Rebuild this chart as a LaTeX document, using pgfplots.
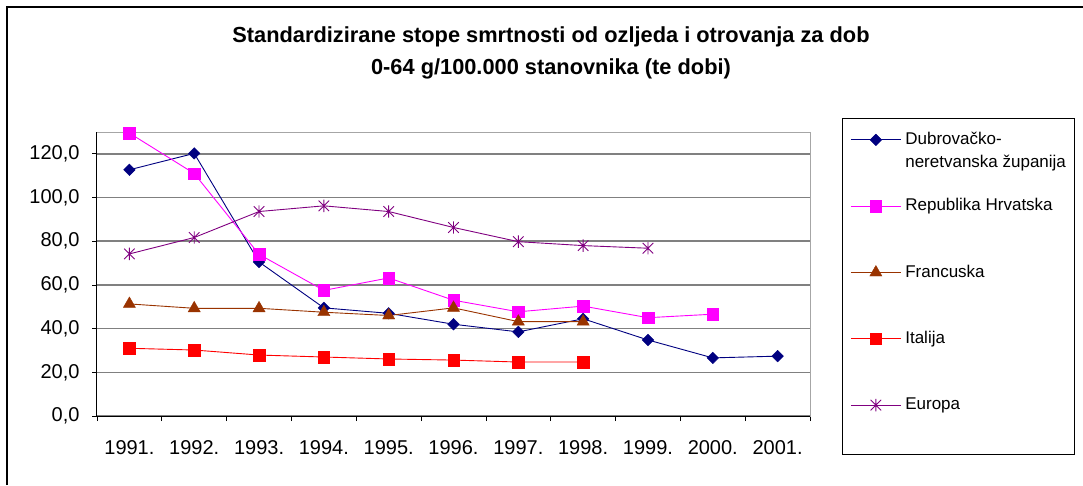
\documentclass[border=0pt]{standalone}
\usepackage{fontspec}
\setmainfont{Liberation Sans}
\usepackage{pgfplots}
\pgfplotsset{compat=1.18}
\definecolor{cD}{HTML}{000080}
\definecolor{cR}{HTML}{FF00FF}
\definecolor{cF}{HTML}{993300}
\definecolor{cI}{HTML}{FF0000}
\definecolor{cE}{HTML}{800080}
\definecolor{gridc}{HTML}{808080}
\pgfdeclareplotmark{xstar}{%
  \pgfpathmoveto{\pgfqpoint{0pt}{\pgfplotmarksize}}%
  \pgfpathlineto{\pgfqpoint{0pt}{-\pgfplotmarksize}}%
  \pgfpathmoveto{\pgfqpoint{-0.85\pgfplotmarksize}{0.85\pgfplotmarksize}}%
  \pgfpathlineto{\pgfqpoint{0.85\pgfplotmarksize}{-0.85\pgfplotmarksize}}%
  \pgfpathmoveto{\pgfqpoint{-0.85\pgfplotmarksize}{-0.85\pgfplotmarksize}}%
  \pgfpathlineto{\pgfqpoint{0.85\pgfplotmarksize}{0.85\pgfplotmarksize}}%
  \pgfusepathqstroke}

\pgfplotstableread{
x D R F I E
0 112.7 129.5 51.3 31.0 74.2
1 120.2 111.0 49.3 30.2 81.7
2 70.5 74.0 49.3 27.9 93.6
3 49.5 57.5 47.5 27.0 96.2
4 47.0 63.2 46.0 26.1 93.6
5 42.0 53.0 49.5 25.6 86.3
6 38.5 47.7 43.2 24.7 79.8
7 44.5 50.3 43.2 24.7 78.0
8 34.8 45.0 nan nan 76.8
9 26.6 46.6 nan nan nan
10 27.4 nan nan nan nan
}\datatable

\begin{document}
\begin{tikzpicture}
\useasboundingbox (0,0) rectangle (1083pt,485pt);
\draw[line width=1.2pt] (7pt,0pt) -- (7pt,478pt) -- (1083pt,478pt);
\node[font=\fontsize{21.8}{32}\selectfont\bfseries, align=center] at (551pt,432pt)
  {Standardizirane stope smrtnosti od ozljeda i otrovanja za dob\\0-64 g/100.000 stanovnika (te dobi)};
\begin{axis}[
  at={(97pt,69pt)}, anchor=south west,
  scale only axis, width=713pt, height=284pt,
  xmin=-0.5, xmax=10.5, ymin=0, ymax=130,
  xtick={-0.5,0.5,...,10.5}, xticklabels={},
  extra x ticks={0,1,...,10},
  extra x tick labels={1991.,1992.,1993.,1994.,1995.,1996.,1997.,1998.,1999.,2000.,2001.},
  extra x tick style={major tick length=0pt, xticklabel style={yshift=-21pt}},
  ytick={0,20,...,120},
  ymajorgrids, major grid style={line width=1.5pt, draw=gridc},
  tick align=outside, tick pos=left, major tick length=5pt,
  tick style={black, line width=0.8pt},
  axis line style={draw=gray!70, line width=1pt},
  tick label style={font=\fontsize{20}{24}\selectfont},
  yticklabel style={xshift=-9pt, /pgf/number format/.cd, fixed, fixed zerofill, precision=1, use comma, assume math mode=true},
  clip=false,
  legend image code/.code={\draw[mark repeat=2,mark phase=2,yshift=14pt,#1] plot coordinates {(0pt,0pt) (25pt,0pt) (50pt,0pt)};},
  legend cell align=left,
  legend style={at={(1.0449,1.0493)}, anchor=north west, draw=black, line width=0.8pt,
    font=\fontsize{17}{23.5}\selectfont, inner xsep=8pt, inner ysep=4pt, row sep=3.3pt, column sep=4pt,
    nodes={inner sep=0pt, text height=22pt, text depth=41pt}},
]
\draw[black, line width=1pt] (rel axis cs:0,1) -- (rel axis cs:0,0) -- (rel axis cs:1,0);
\addplot[cD, line width=0.9pt, mark=square*, mark size=4.1pt, mark options={rotate=45, fill=cD, draw=cD, line width=0.4pt}] table[x=x, y=D] {\datatable};
\addlegendentry{\vtop{\hbox{Dubrovačko-}\hbox{neretvanska županija}}}
\addplot[cR, line width=0.9pt, mark=square*, mark size=5.8pt, mark options={fill=cR, draw=cR, line width=0.4pt}, unbounded coords=jump] table[x=x, y=R] {\datatable};
\addlegendentry{Republika Hrvatska}
\addplot[cF, line width=0.9pt, mark=triangle*, mark size=7pt, mark options={fill=cF, draw=cF, line width=0.4pt}, unbounded coords=jump] table[x=x, y=F] {\datatable};
\addlegendentry{Francuska}
\addplot[cI, line width=0.9pt, mark=square*, mark size=5.8pt, mark options={fill=cI, draw=cI, line width=0.4pt}, unbounded coords=jump] table[x=x, y=I] {\datatable};
\addlegendentry{Italija}
\addplot[cE, line width=0.9pt, mark=xstar, mark size=6.2pt, mark options={draw=cE, line width=0.9pt}, unbounded coords=jump] table[x=x, y=E] {\datatable};
\addlegendentry{Europa}
\end{axis}
\end{tikzpicture}
\end{document}
